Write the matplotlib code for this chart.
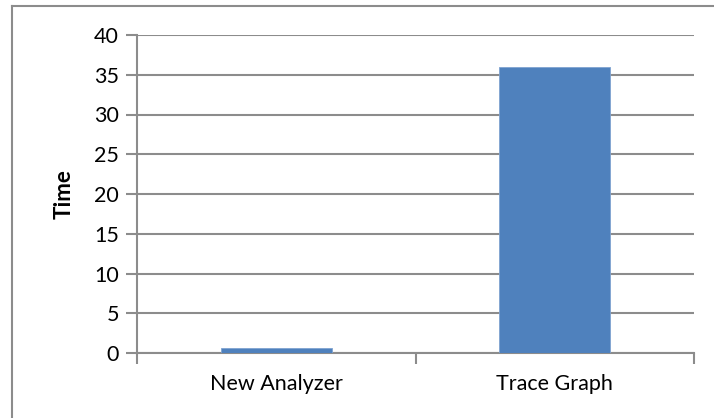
import matplotlib
matplotlib.use("Agg")
import matplotlib.pyplot as plt
from matplotlib.lines import Line2D
import numpy as np

categories = ["New Analyzer", "Trace Graph"]
times = [0.6, 36]
y_ticks = [0, 5, 10, 15, 20, 25, 30, 35, 40]

W, H = 714, 418
fig = plt.figure(figsize=(W / 100, H / 100), dpi=100)
plt.rcParams["font.family"] = ["Lato", "DejaVu Sans"]

grid_col = "#8c8c8c"
bar_col = "#4f81bd"

# chart frame (top and left edges visible)
fig.add_artist(Line2D([12 / W, 12 / W], [0, 1 - 6 / H], transform=fig.transFigure,
                      color=grid_col, lw=1.5))
fig.add_artist(Line2D([12 / W, 1], [1 - 6 / H, 1 - 6 / H], transform=fig.transFigure,
                      color=grid_col, lw=1.5))

left, right, bottom, top = 137 / W, 694 / W, 1 - 353 / H, 1 - 35 / H
ax = fig.add_axes([left, bottom, right - left, top - bottom])

x = np.arange(len(categories))
ax.bar(x, times, width=0.4, color=bar_col, edgecolor="#7fa3d0", linewidth=0.6, zorder=3)

ax.set_xlim(-0.5, len(categories) - 0.5)
ax.set_ylim(0, 40)
ax.set_yticks(y_ticks)
ax.set_yticklabels([str(v) for v in y_ticks], fontsize=15.5)
ax.yaxis.grid(True, color=grid_col, lw=1.5, zorder=0)

ax.set_xticks(x)
ax.set_xticklabels(categories, fontsize=15.5)
ax.tick_params(axis="x", length=0, pad=15)
ax.set_xticks(np.arange(-0.5, len(categories), 1.0), minor=True)
ax.tick_params(axis="x", which="minor", length=8, width=1.5, color=grid_col)
ax.tick_params(axis="y", length=8, width=1.5, color=grid_col, pad=5)

for s in ["top", "right"]:
    ax.spines[s].set_visible(False)
for s in ["left", "bottom"]:
    ax.spines[s].set_color(grid_col)
    ax.spines[s].set_linewidth(1.5)

ax.set_ylabel("Time", fontsize=16, fontweight="bold", labelpad=14)

fig.savefig("out.png", dpi=100)
